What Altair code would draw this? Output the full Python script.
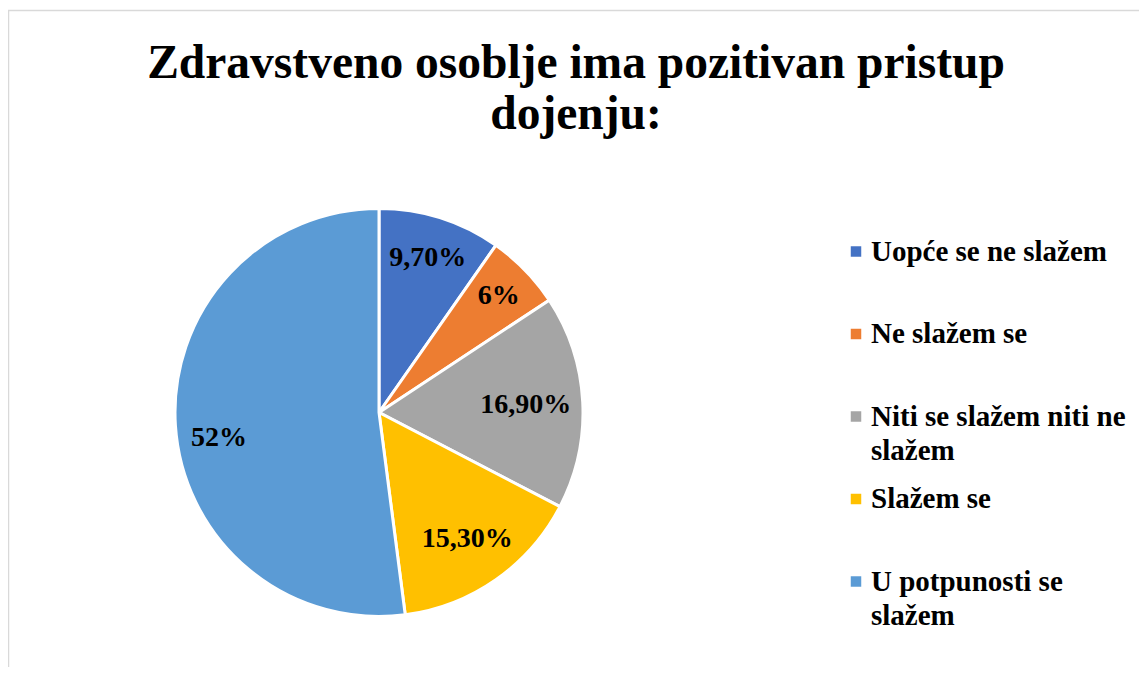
import altair as alt
import pandas as pd

# ---- data ----
categories = ["Uopće se ne slažem", "Ne slažem se", "Niti se slažem niti ne slažem",
              "Slažem se", "U potpunosti se slažem"]
legend_lines = ["Uopće se ne slažem", "Ne slažem se", "Niti se slažem niti ne\nslažem",
                "Slažem se", "U potpunosti se\nslažem"]
values = [9.7, 6.0, 16.9, 15.3, 52.0]
labels = ["9,70%", "6%", "16,90%", "15,30%", "52%"]
colors = ["#4472C4", "#ED7D31", "#A5A5A5", "#FFC000", "#5B9BD5"]
title_lines = ["Zdravstveno osoblje ima pozitivan pristup", "dojenju:"]

df = pd.DataFrame({
    "Category": categories,
    "Legend": legend_lines,
    "Value": values,
    "Label": labels,
    "idx": list(range(len(categories))),
})
total = sum(values)

# ---- layout / style ----
W, H = 1131, 659
CX, CY, R = 371, 404.5, 204
FONT = "Liberation Serif"

color = alt.Color("Category:N", scale=alt.Scale(domain=categories, range=colors), legend=None)
base = alt.Chart(df)

border = alt.Chart(pd.DataFrame({"a": [0]})).mark_rect(
    fill="transparent", stroke="#D9D9D9", strokeWidth=1.5
).encode(x=alt.value(0.5), x2=alt.value(W + 20), y=alt.value(2.5), y2=alt.value(H + 20))

pie = base.mark_arc(stroke="white", strokeWidth=3).encode(
    theta=alt.Theta("Value:Q", stack=True),
    order=alt.Order("idx:Q"),
    color=color,
    x=alt.value(CX), y=alt.value(CY), radius=alt.value(R),
)

# label placement inside slices (radial distance and small angular nudge, like Excel "best fit")
pct = base.transform_window(
    cum="sum(Value)", sort=[alt.SortField("idx")], frame=[None, 0]
).transform_calculate(
    ang=f"(datum.cum - datum.Value / 2) / {total} * 2 * PI + (datum.idx == 4 ? -5.5 * PI / 180 : 0)",
    r="[162, 167, 147, 154, 162][datum.idx]",
).mark_text(font=FONT, fontSize=28, fontWeight="bold", color="black",
            align="center", baseline="middle").encode(
    theta=alt.Theta("ang:Q", scale=None),
    radius=alt.Radius("r:Q", scale=None),
    x=alt.value(CX), y=alt.value(CY),
    text="Label:N",
)

leg_y = alt.Y("Category:N",
              scale=alt.Scale(type="point", domain=categories, range=[243.5, 573.5], padding=0),
              axis=None)
leg_sym = base.mark_point(shape="square", filled=True, size=110, opacity=1).encode(
    x=alt.value(848), y=leg_y, color=color)
leg_txt = base.mark_text(align="left", baseline="alphabetic", dy=9, font=FONT, fontSize=29,
                         fontWeight="bold", color="black", lineBreak="\n", lineHeight=34).encode(
    x=alt.value(863), y=leg_y, text="Legend:N")

t1 = alt.Chart(pd.DataFrame({"t": [title_lines[0]]})).mark_text(
    font=FONT, fontSize=47.5, fontWeight="bold", align="center", baseline="alphabetic", color="black"
).encode(x=alt.value(568), y=alt.value(70), text="t:N")
t2 = alt.Chart(pd.DataFrame({"t": [title_lines[1]]})).mark_text(
    font=FONT, fontSize=47.5, fontWeight="bold", align="center", baseline="alphabetic", color="black"
).encode(x=alt.value(568), y=alt.value(121), text="t:N")

chart = alt.layer(border, pie, pct, leg_sym, leg_txt, t1, t2).properties(
    width=W, height=H, autosize=alt.AutoSizeParams(type="none"), padding=0,
    background="white",
).configure_view(stroke="transparent")

chart.save("out.html", embed_options={"renderer": "svg", "actions": False})
